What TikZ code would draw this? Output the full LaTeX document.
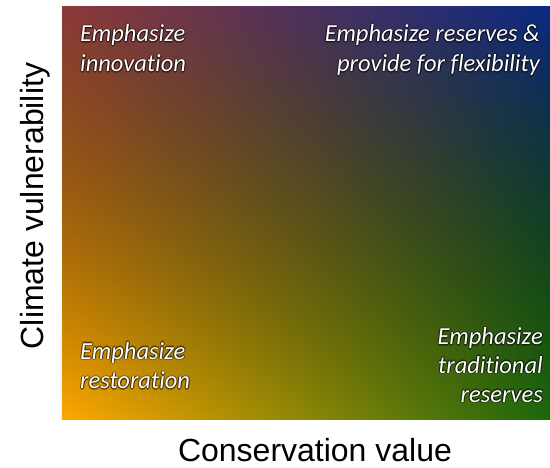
\documentclass[tikz,border=0pt]{standalone}
\usepackage{fontspec}
\usetikzlibrary{calc,fadings}
\newfontfamily\calibfont[Ligatures={NoCommon}]{Carlito}
\newfontfamily\axisfont{Liberation Sans}

% corner colours of the quadrant field
\definecolor{cTL}{RGB}{142,58,58}
\definecolor{cTR}{RGB}{12,42,132}
\definecolor{cBL}{RGB}{255,168,0}
\definecolor{cBR}{RGB}{28,104,14}

\tikzfading[name=fadeup, top color=transparent!100, bottom color=transparent!0]

\tikzset{
  quadtext/.style={inner sep=0pt, text=white, font=\calibfont\itshape\fontsize{24.5}{29}\selectfont},
  glowshadow/.style={quadtext, text=black, text opacity=0.28},
  axislabel/.style={inner sep=0pt, text=black, font=\axisfont\fontsize{32}{38}\selectfont}
}

% one line of white italic text with a soft dark halo
\newcommand\haloline[4]{%
  \foreach \ang in {0,45,...,315}{%
    \node[glowshadow, anchor=#2] at ($#3+(\ang:1.2)$) {#4};
  }
  \node[quadtext, anchor=#2] (#1) at #3 {#4};
}

\begin{document}
\begin{tikzpicture}[x=1pt,y=1pt]
  \useasboundingbox (0,0) rectangle (550,467);

  % bilinear colour field: top row shading, bottom row shading faded in upwards
  \fill[left color=cTL, right color=cTR] (62,48) rectangle (550,460);
  \fill[left color=cBL, right color=cBR, path fading=fadeup] (62,48) rectangle (550,460);
  \coordinate (field-sw) at (62,48);
  \coordinate (field-ne) at (550,460);

  % quadrant recommendations
  \haloline{tl1}{base west}{(80,425)}{Emphasize}
  \haloline{tl2}{base west}{(80,395)}{innovation}

  \haloline{tr1}{base east}{(540,425)}{Emphasize reserves \&}
  \haloline{tr2}{base east}{(540,395)}{provide for flexibility}

  \haloline{bl1}{base west}{(80,108)}{Emphasize}
  \haloline{bl2}{base west}{(80,78)}{restoration}

  \haloline{br1}{base east}{(543,122)}{Emphasize}
  \haloline{br2}{base east}{(543,94)}{traditional}
  \haloline{br3}{base east}{(543,65)}{reserves}

  % axes
  \node[axislabel, anchor=base] (xlabel) at (315,6) {Conservation value};
  \node[axislabel, anchor=base, rotate=90] (ylabel) at (43,261) {Climate vulnerability};
\end{tikzpicture}
\end{document}
